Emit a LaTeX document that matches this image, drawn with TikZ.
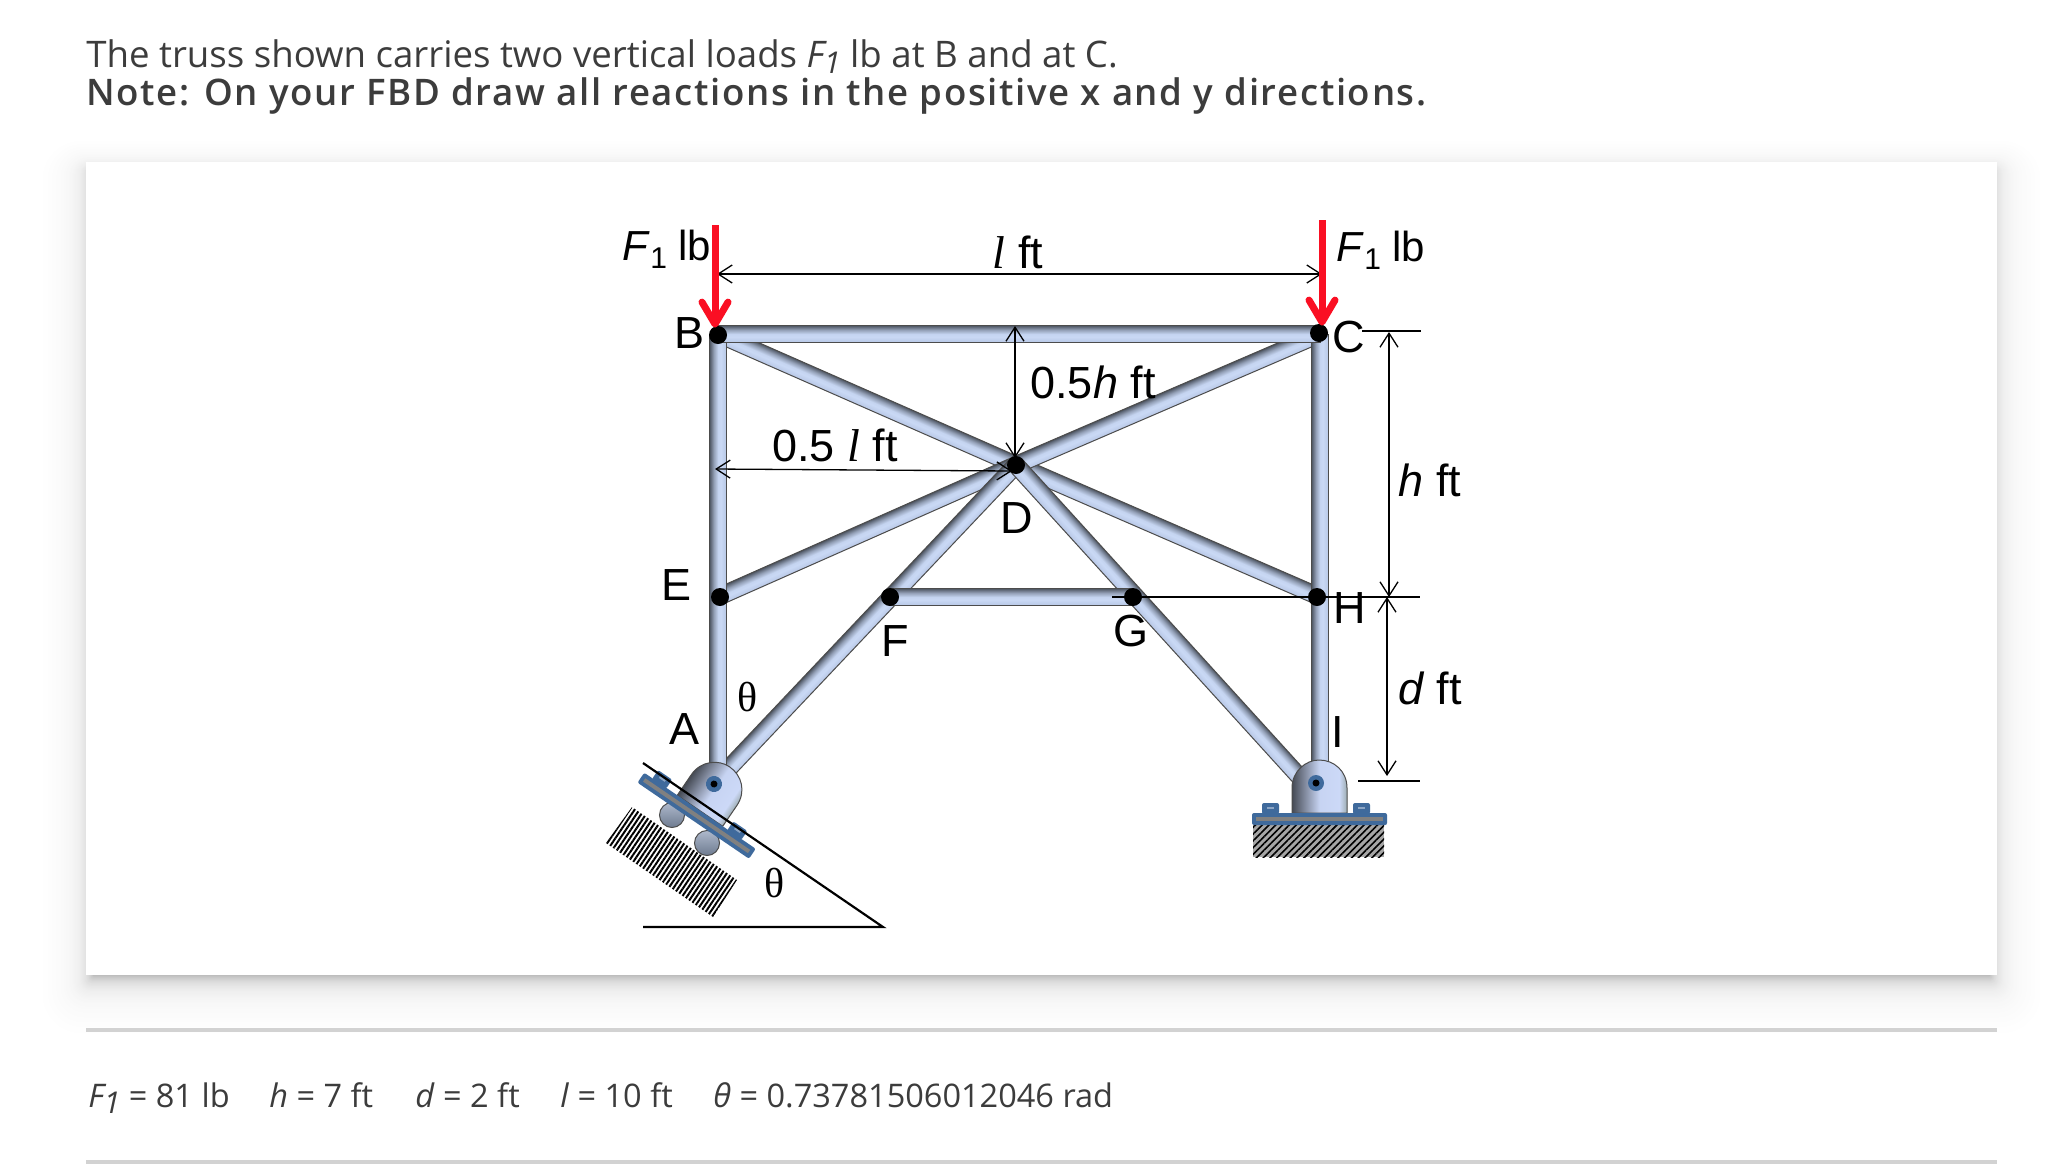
\documentclass[tikz,border=0pt]{standalone}
\usepackage{fontspec}
\usepackage{tikz}
\usetikzlibrary{arrows.meta,calc,patterns.meta}
\setmainfont{Open Sans}
\newfontfamily\labelfont{Liberation Sans}
\newfontfamily\serifglyph{Liberation Serif}
\newfontfamily\noteface[LetterSpace=4.5]{Open Sans Semibold}
\newcommand{\lowsub}[1]{\raisebox{-0.35ex}{\fontsize{15}{15}\selectfont #1}}
\newcommand{\curlyl}{{\fontsize{23}{25}\selectfont\serifglyph\itshape l}}
\newcommand{\member}[2]{
  \path let \p1=($(#2)-(#1)$), \n1={atan2(\y1,\x1)}, \n2={veclen(\x1,\y1)} in
    \pgfextra{\pgfmathsetmacro{\memang}{\n1}\pgfmathsetlengthmacro{\memlen}{\n2}\xdef\memberang{\memang}\xdef\memberlen{\memlen}};
  \shade[memberbar, transform canvas={shift={(#1)}, rotate=\memberang}] (0pt,-4.25pt) rectangle (\memberlen,4.25pt);
}
\pgfdeclareverticalshading{memberfill}{100bp}{rgb(0bp)=(.72,.78,.90); rgb(25bp)=(.72,.78,.90); rgb(42bp)=(.79,.85,.96); rgb(50bp)=(.77,.83,.94); rgb(62bp)=(.58,.63,.72); rgb(75bp)=(.30,.33,.38); rgb(100bp)=(.30,.33,.38)}
\pgfdeclarehorizontalshading{pinfill}{100bp}{rgb(0bp)=(.27,.29,.33); rgb(25bp)=(.27,.29,.33); rgb(50bp)=(.78,.83,.95); rgb(68bp)=(.80,.85,.97); rgb(75bp)=(.62,.68,.70); rgb(100bp)=(.62,.68,.70)}
\definecolor{plateblue}{HTML}{3F6A9C}
\definecolor{loadred}{HTML}{FA0F23}
\definecolor{textgray}{HTML}{3C3C3C}
\definecolor{rulegray}{HTML}{D2D2D2}
\definecolor{wheeltop}{HTML}{AEB9CC}
\definecolor{wheelbot}{HTML}{6E7B90}
\tikzset{
  memberbar/.style={draw=black!70, line width=0.5pt, shading=memberfill},
  joint/.style={circle, fill=black, inner sep=0pt, minimum size=9pt},
  dimline/.style={<->, line width=0.65pt},
  extline/.style={line width=0.65pt},
  loadarrow/.style={-{Straight Barb[length=11pt, width=13pt, round]}, draw=loadred, line width=3.5pt, shorten >=-1pt},
  tag/.style={font=\fontsize{22.5}{25}\selectfont\labelfont, inner sep=0pt},
  loadtag/.style={font=\fontsize{21}{25}\selectfont\labelfont, inner sep=0pt},
  dimtag/.style={font=\fontsize{22.5}{25}\selectfont\labelfont, inner sep=0pt},
  angletag/.style={font=\fontsize{21}{25}\selectfont\serifglyph, inner sep=0pt},
  prose/.style={font=\fontsize{18.3}{22}\selectfont, text=textgray, inner sep=0pt, anchor=base west},
  givens/.style={font=\fontsize{16.25}{20}\selectfont, text=textgray, inner sep=0pt, anchor=base west},
  wheel/.style={top color=wheeltop, bottom color=wheelbot, draw=black!70, line width=0.5pt}
}
\newcommand{\pinseat}{
  \shade[shading=pinfill, draw=black!70, line width=0.5pt] (-24,30) -- (-24,5) .. controls (-24,-12) and (-10,-23) .. (3,-23) .. controls (18,-23) and (31,-12) .. (31,5) -- (31,30) -- cycle;
  \fill[plateblue, rounded corners=1pt] (-54,20) rectangle (-37,31);
  \fill[plateblue, rounded corners=1pt] (37,20) rectangle (54,31);
  \fill[plateblue!60!white] (-49,24) rectangle (-42,26);
  \fill[plateblue!60!white] (42,24) rectangle (49,26);
  \fill[plateblue, rounded corners=1pt] (-64,30) rectangle (71,42);
  \fill[gray] (-60,34) rectangle (67,38);
  \fill[plateblue] (0,0) circle (8);
  \fill[black] (0,0) circle (3.5);
}
\begin{document}
\begin{tikzpicture}[x=0.5pt, y=-0.5pt, >={Straight Barb[length=7pt, width=9pt]}]
\useasboundingbox (0,0) rectangle (2046,1164);
\fill[white] (0,0) rectangle (2046,1164);

\foreach \s [evaluate=\s as \pct using 25*exp(-7*\s/50)+4*(1-\s/50)] in {50,49,...,1}
  \fill[black!\pct, rounded corners=\s*0.4pt] (94-\s*1.06,172-\s*0.64) rectangle (1989+\s*1.06,975+\s*1.2);
\fill[white] (86,162) rectangle (1997,975);

\fill[rulegray] (86,1028) rectangle (1997,1032);
\fill[rulegray] (86,1160) rectangle (1997,1164);

\node[prose] (intro) at (86,67) {The truss shown carries two vertical loads \textit{F\lowsub{1}} lb at B and at C.};
\node[prose, font=\fontsize{18.3}{22}\noteface] (note) at (86,105) {Note: On your FBD draw all reactions in the positive x and y directions.};

\node[givens] (valF) at (88,1107) {\textit{F\lowsub{1}} = 81 lb};
\node[givens] (valh) at (269,1107) {\textit{h} = 7 ft};
\node[givens] (vald) at (415,1107) {\textit{d} = 2 ft};
\node[givens] (vall) at (560,1107) {\textit{l} = 10 ft};
\node[givens] (valt) at (713,1107) {\textit{θ} = 0.73781506012046 rad};

\coordinate (A) at (714,784);
\coordinate (I) at (1316,795);
\coordinate (Atop) at (718,770);
\coordinate (Itop) at (1320,770);
\coordinate (Bt) at (718,334);
\coordinate (Ct) at (1320,334);
\coordinate (Et) at (718,597);
\coordinate (Ht) at (1320,597);
\coordinate (Dt) at (1016,465);
\coordinate (Ft) at (890,597);
\coordinate (Gt) at (1133,597);

\member{Bt}{Dt}
\member{Dt}{Ht}
\member{Et}{Dt}
\member{Dt}{Ct}
\member{A}{Dt}
\member{Dt}{I}
\member{Ft}{Gt}
\member{Atop}{Bt}
\member{Itop}{Ct}
\member{Bt}{Ct}

\coordinate (inclinetop) at (643,763);
\coordinate (inclinetoe) at (883,927);
\coordinate (inclineheel) at (643,927);

\fill[pattern={Lines[angle=56, distance=2pt, line width=1pt]}] (632,807) -- (737,880) -- (713,917) -- (606,843) -- cycle;
\fill[gray!70] (1253,825) rectangle (1384,857);
\fill[pattern={Lines[angle=45, distance=2.4pt, line width=0.8pt]}] (1253,825) rectangle (1384,857);
\shade[wheel] (672,815) circle (12.5);
\shade[wheel] (707,843) circle (12.5);

\begin{scope}[transform canvas={shift={(714,784)}, rotate=-34.3}]
\pinseat
\end{scope}
\begin{scope}[transform canvas={shift={(1316,783)}}]
\pinseat
\end{scope}

\draw[line width=1.1pt] (inclinetop) -- (inclinetoe) -- (inclineheel);

\node[joint] (B) at (718,335) {};
\node[joint] (C) at (1319,333) {};
\node[joint] (D) at (Dt) {};
\node[joint] (E) at (720,597) {};
\node[joint] (F) at (Ft) {};
\node[joint] (G) at (Gt) {};
\node[joint] (H) at (1317,597) {};

\coordinate (spanL) at (717,274);
\coordinate (spanR) at (1322,274);
\coordinate (halfhT) at (1015,326);
\coordinate (halfhB) at (1015,458);
\coordinate (halflL) at (715,469);
\coordinate (halflR) at (1012,471);
\coordinate (hT) at (1389,332);
\coordinate (hB) at (1389,597);
\coordinate (dT) at (1387,597);
\coordinate (dB) at (1387,776);
\coordinate (extCl) at (1362,331);
\coordinate (extC) at (1421,331);
\coordinate (extGl) at (1112,597);
\coordinate (extH) at (1420,597);
\coordinate (extIl) at (1358,781);
\coordinate (extI) at (1420,781);

\draw[dimline] (spanL) -- (spanR);
\draw[dimline] (halfhT) -- (halfhB);
\draw[dimline] (halflL) -- (halflR);
\draw[dimline] (hT) -- (hB);
\draw[dimline] (dT) -- (dB);
\draw[extline] (extCl) -- (extC);
\draw[extline] (extGl) -- (extH);
\draw[extline] (extIl) -- (extI);

\coordinate (loadBs) at (715,225);
\coordinate (loadCs) at (1322,220);
\draw[loadarrow] (loadBs) -- (B.north -| loadBs);
\draw[loadarrow] (loadCs) -- (C.north -| loadCs);

\node[loadtag] (labelF1) at (667,249) {\textit{F}\lowsub{1} lb};
\node[loadtag] (labelF2) at (1381,250) {\textit{F}\lowsub{1} lb};
\node[tag] (labelB) at (689,333) {B};
\node[tag] (labelC) at (1349,337) {C};
\node[tag] (labelD) at (1017,518) {D};
\node[tag] (labelE) at (676,585) {E};
\node[tag] (labelF) at (895,641) {F};
\node[tag] (labelG) at (1131,631) {G};
\node[tag] (labelH) at (1350,608) {H};
\node[tag] (labelA) at (685,729) {A};
\node[tag] (labelI) at (1338,732) {I};
\node[angletag] (labelt1) at (748,697) {θ};
\node[angletag] (labelt2) at (775,883) {θ};
\node[dimtag] (labell) at (1018,252) {\curlyl\ ft};
\node[dimtag] (labelhh) at (1093,382) {0.5\textit{h} ft};
\node[dimtag] (labelhl) at (835,445) {0.5 \curlyl\ ft};
\node[dimtag] (labelh) at (1430,480) {\textit{h} ft};
\node[dimtag] (labeld) at (1430,688) {\textit{d} ft};
\end{tikzpicture}
\end{document}
